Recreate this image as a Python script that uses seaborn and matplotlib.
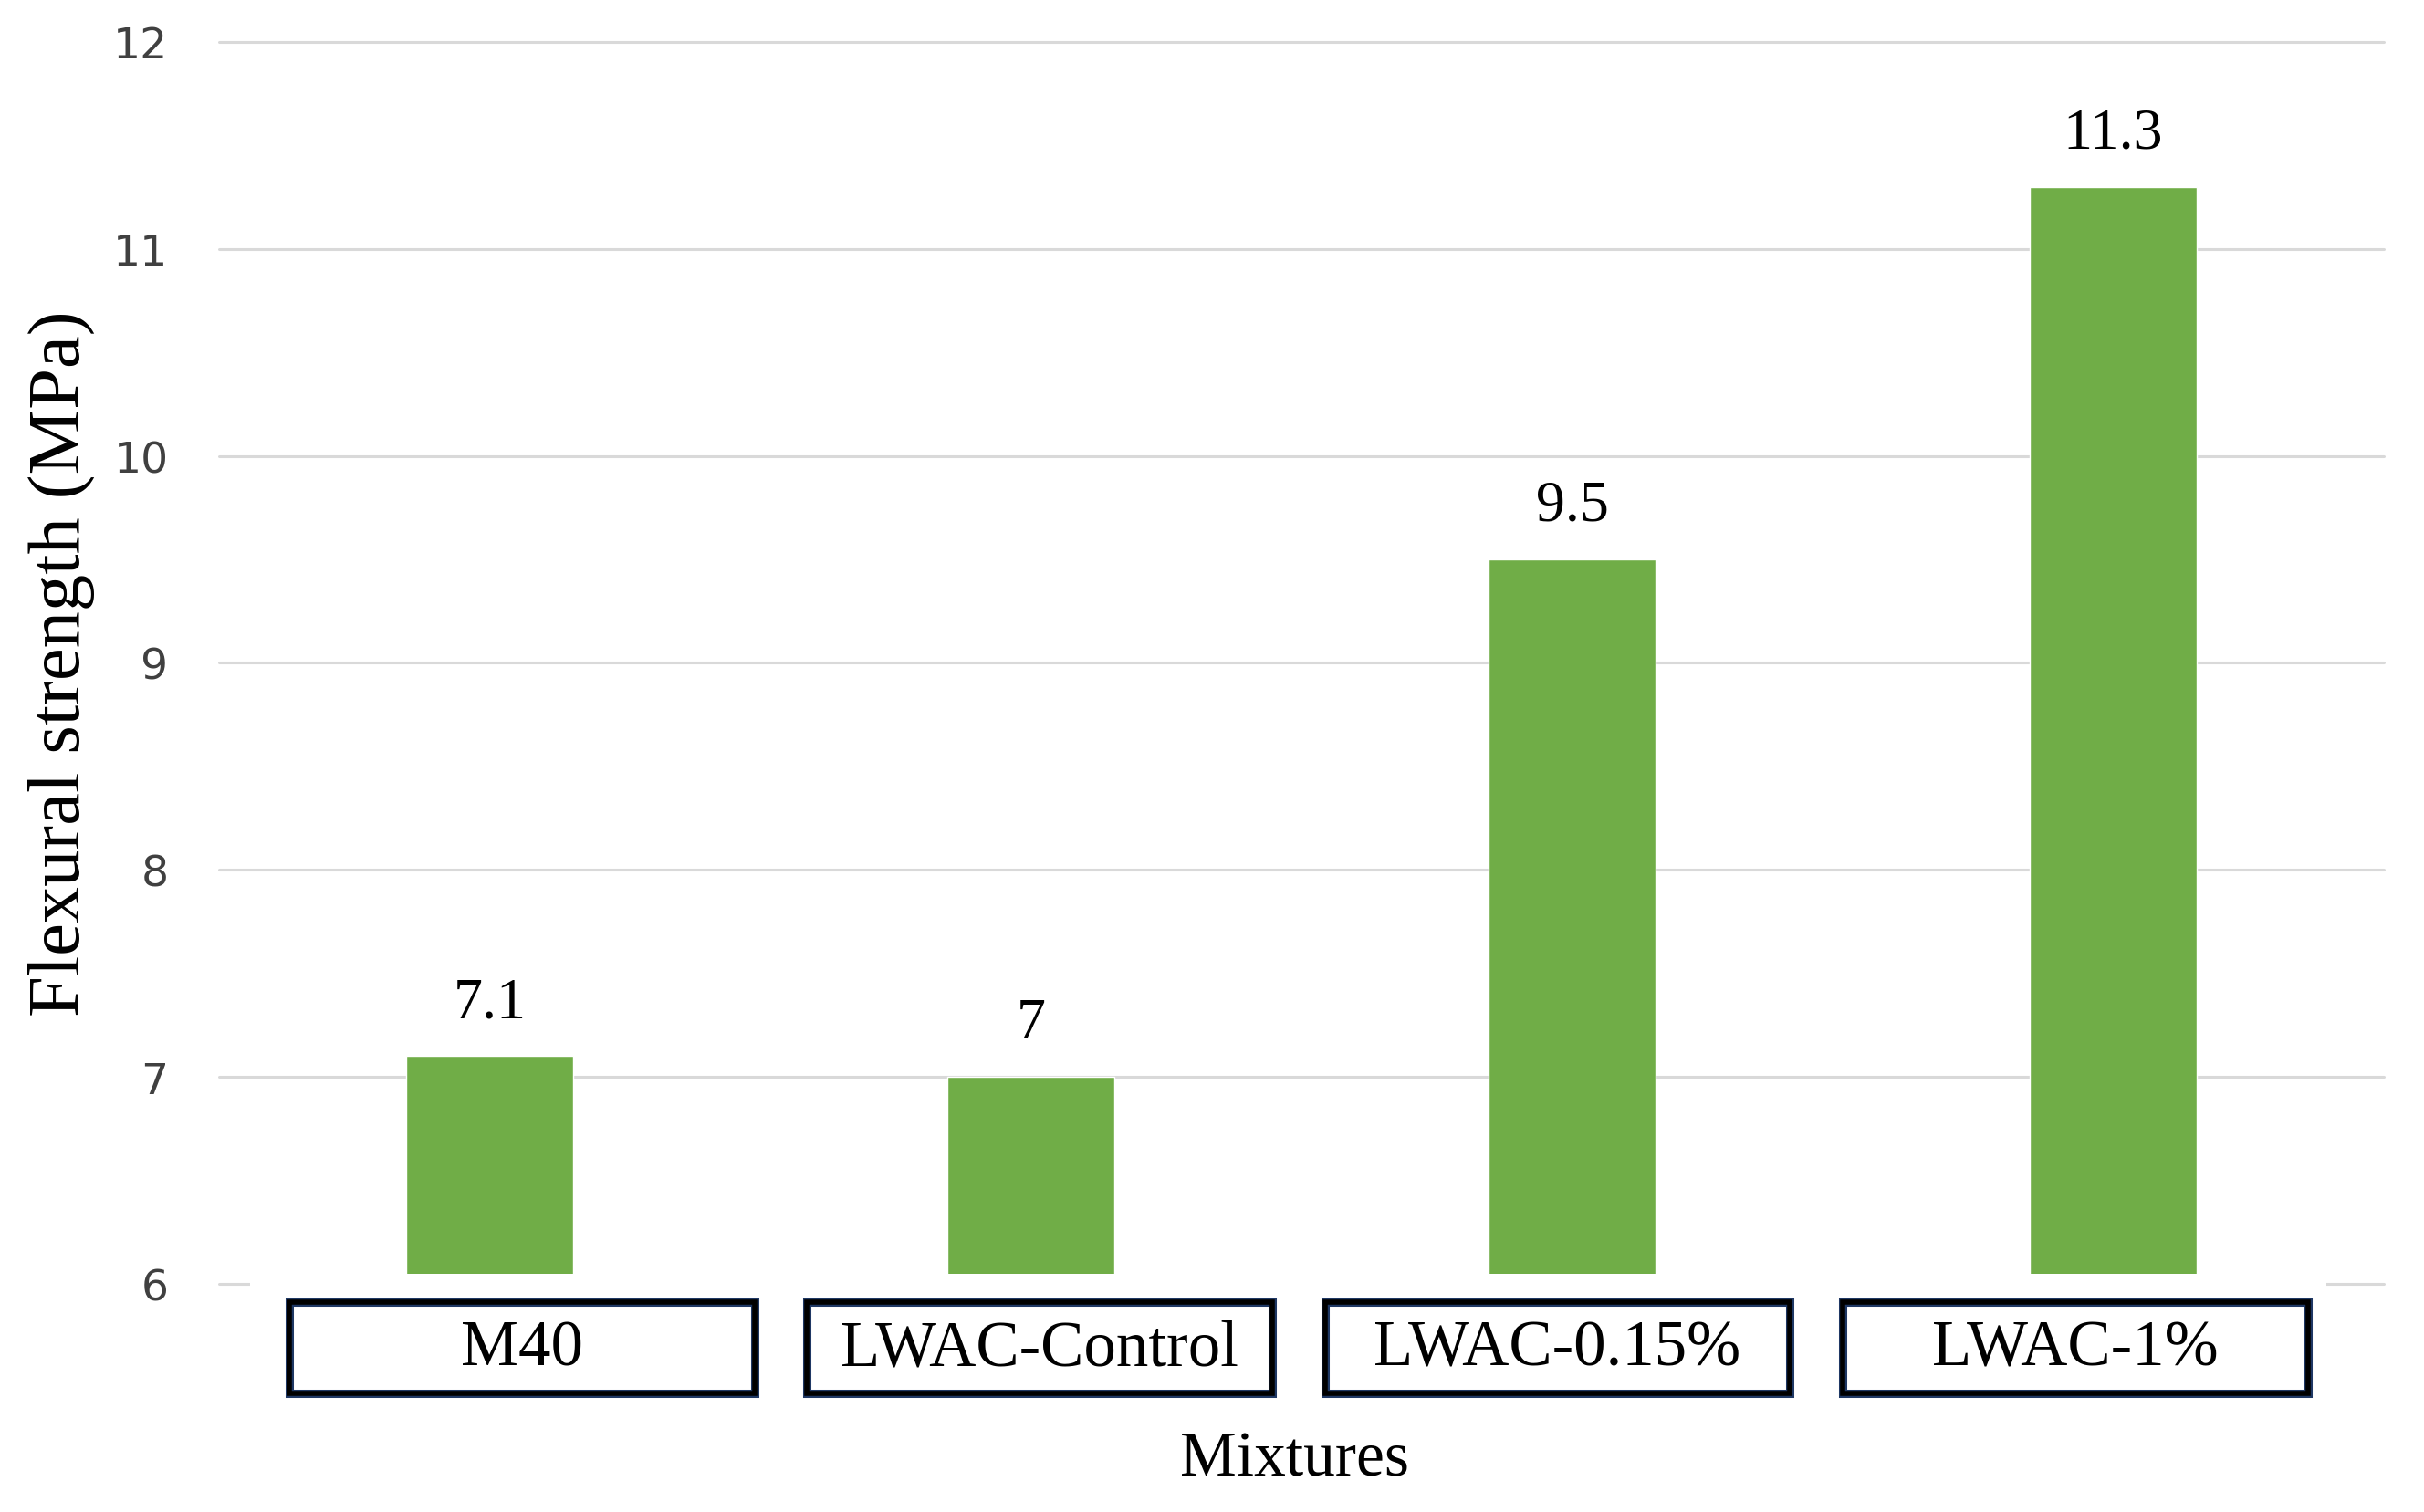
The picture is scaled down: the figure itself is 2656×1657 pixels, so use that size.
import pandas as pd
import matplotlib.pyplot as plt
import matplotlib.transforms as mtransforms
from matplotlib.patches import Rectangle
import seaborn as sns

# data
mixtures = ['M40', 'LWAC-Control', 'LWAC-0.15%', 'LWAC-1%']
flexural = [7.1, 7.0, 9.5, 11.3]
value_labels = ['7.1', '7', '9.5', '11.3']
y_ticks = [6, 7, 8, 9, 10, 11, 12]

df = pd.DataFrame({'Mixture': mixtures, 'Flexural': flexural})

sns.set_theme(style="white")
plt.rcParams['font.family'] = ['DejaVu Sans']

serif = ['Liberation Serif', 'DejaVu Serif']
bar_color = '#70AD47'
grid_color = '#D9D9D9'

fig = plt.figure(figsize=(26.56, 16.58), dpi=100)
ax = fig.add_axes([0.0904, 0.1508, 0.893, 0.8209])

sns.barplot(data=df, x='Mixture', y='Flexural', color=bar_color, width=0.31,
            saturation=1, ax=ax, zorder=3)

ax.set_ylim(6, 12)
ax.set_xlim(-0.5, 3.5)
ax.set_yticks(y_ticks)
ax.set_yticklabels([str(t) for t in y_ticks], fontsize=34, color='#404040')
ax.tick_params(axis='y', length=0, pad=40)
ax.tick_params(axis='x', length=0, labelbottom=False)

# gridlines
ax.grid(False)
for t in y_ticks:
    ax.axhline(t, color=grid_color, linewidth=2.2, zorder=1, clip_on=False)

for s in ax.spines.values():
    s.set_visible(False)

# value labels over bars
for i, (v, lab) in enumerate(zip(flexural, value_labels)):
    ax.annotate(lab, xy=(i, v), xytext=(0, 31), textcoords='offset points',
                ha='center', va='baseline', fontsize=46, family=serif, color='black')

# white strip hiding the base line between end stubs
ax.add_patch(Rectangle((0.0143, -0.025), 0.9592, 0.033, transform=ax.transAxes,
                       facecolor='white', edgecolor='none', zorder=5, clip_on=False))

# boxed category labels (boxes sit on a slightly tighter spacing than the bars)
trans = mtransforms.blended_transform_factory(ax.transData, ax.transAxes)
box_w = 0.86
box_step = 0.957
box_shift = 0.059
for i, name in enumerate(mixtures):
    cx = box_shift + i * box_step
    ax.add_patch(Rectangle((cx - box_w / 2, -0.088), box_w, 0.073, transform=trans,
                           facecolor='white', edgecolor='#1F3864', linewidth=6.5,
                           zorder=6, clip_on=False))
    ax.add_patch(Rectangle((cx - box_w / 2, -0.088), box_w, 0.073, transform=trans,
                           facecolor='none', edgecolor='black', linewidth=4,
                           zorder=7, clip_on=False))
    ax.text(cx, -0.052, name, transform=trans, ha='center', va='center',
            fontsize=51, family=serif, color='black', zorder=8)

ax.set_xlabel('')
ax.set_ylabel('Flexural strength (MPa)', fontsize=58, family=serif, color='black', va='center')
ax.yaxis.set_label_coords(-0.073, 0.5)
fig.text(0.534, 1 - 1601 / 1658, 'Mixtures', ha='center', va='center',
         fontsize=50, family=serif, color='black')

plt.savefig('out.png', dpi=100, facecolor='white')
